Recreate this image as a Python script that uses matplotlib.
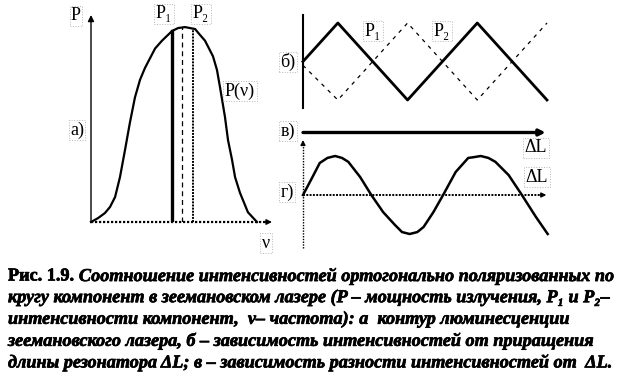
import matplotlib
matplotlib.use("Agg")
import matplotlib.pyplot as plt
import matplotlib.patheffects as pe

W, H = 629, 385

# а) контур люминесценции P(nu): точки
nu = [0, 0.39, 0.77, 1.05, 1.33, 1.60, 1.88, 2.15, 2.43, 2.71, 2.98, 3.54,
      3.92, 4.48, 4.81, 5.19, 5.75, 6.02, 6.30, 6.74, 6.96, 7.13, 7.40,
      7.57, 7.79, 7.96, 8.23, 8.67, 9.17]
p_nu = [0, 0.02, 0.046, 0.077, 0.128, 0.23, 0.37, 0.51, 0.64, 0.73, 0.79,
        0.89, 0.93, 0.98, 0.995, 1.0, 0.99, 0.96, 0.93, 0.85, 0.78, 0.69,
        0.54, 0.42, 0.32, 0.23, 0.15, 0.05, 0]
lines_nu = [4.48, 5.03, 5.64]       # P1, центр, P2
lines_p = [0.98, 1.0, 0.99]

# б) интенсивности P1 и P2 от dL
dl_tri = [0, 0.5, 1.5, 2.5, 3.5]
p1_tri = [0, 1, -1, 1, -1]
p2_tri = [-0.1, -1, 1, -1, 1]

# г) разность интенсивностей
dl_diff = [0, 0.13, 0.24, 0.35, 0.46, 0.56, 0.65, 0.82, 0.98, 1.15, 1.32,
           1.42, 1.53, 1.64, 1.73, 1.87, 2.01, 2.19, 2.37, 2.45, 2.55, 2.66,
           2.76, 2.95, 3.14, 3.34, 3.51]
p_diff = [0, 0.44, 0.82, 0.95, 1.0, 0.95, 0.85, 0.46, 0, -0.44, -0.77,
          -0.95, -1.0, -0.95, -0.82, -0.44, 0, 0.59, 0.95, 0.97, 1.0, 0.95,
          0.85, 0.51, 0, -0.56, -1.0]

caption = [
    "Соотношение интенсивностей ортогонально поляризованных по",
    "кругу компонент в зеемановском лазере (P – мощность излучения, P₁ и P₂–",
    "интенсивности компонент,  ν– частота): а  контур люминесценции",
    "зеемановского лазера, б – зависимость интенсивностей от приращения",
    "длины резонатора ΔL; в – зависимость разности интенсивностей от  ΔL.",
]

SERIF = ["Liberation Serif", "DejaVu Serif"]
CAP_SIZE = 13.1
THICK = [pe.withStroke(linewidth=0.5, foreground="k")]


def box(l, t, r, b):
    return [l / W, 1 - b / H, (r - l) / W, (b - t) / H]


def label(x, y, s, size=13):
    fig.text(x / W, 1 - y / H, s, family=SERIF, fontsize=size, ha="center",
             va="center",
             bbox=dict(boxstyle="square,pad=0.08", fc="none", ec="#b8b8b8",
                       ls=":", lw=0.7))


def arrow(ax, x0, y0, x1, y1, lw=1.0, ls="-", ms=9):
    ax.annotate("", xy=(x1, y1), xytext=(x0, y0), annotation_clip=False,
                arrowprops=dict(arrowstyle="-|>", lw=lw, color="k",
                                linestyle=ls, mutation_scale=ms,
                                shrinkA=0, shrinkB=0))


fig = plt.figure(figsize=(W / 100, H / 100), dpi=100)

# --- а) ---
ax_a = fig.add_axes(box(91, 15, 272, 222))
ax_a.set_xlim(0, 10)
ax_a.set_ylim(0, 1.062)
ax_a.axis("off")
ax_a.plot(nu, p_nu, color="k", lw=1.6, clip_on=False)
ax_a.plot([lines_nu[0]] * 2, [0, lines_p[0]], color="k", lw=2.4)
ax_a.plot([lines_nu[1]] * 2, [0, lines_p[1]], color="k", lw=0.9,
          ls=(0, (4, 3)))
ax_a.plot([lines_nu[2]] * 2, [0, lines_p[2]], color="k", lw=1.4,
          ls=(0, (1, 0.6)))
arrow(ax_a, 0, 0, 0, 1.062, lw=1.0)
ax_a.plot([0, 9.8], [0, 0], color="k", lw=1.6, ls=(0, (1, 0.8)),
          clip_on=False)
arrow(ax_a, 9.6, 0, 10, 0, lw=1.0, ms=8)

# --- б) ---
ax_b = fig.add_axes(box(303, 23, 547, 100))
ax_b.set_xlim(0, 3.5)
ax_b.set_ylim(-1, 1)
ax_b.axis("off")
ax_b.plot([0, 0], [-1.21, 1.21], color="k", lw=1.5, clip_on=False)
ax_b.plot(dl_tri, p1_tri, color="k", lw=2.0, clip_on=False)
ax_b.plot(dl_tri, p2_tri, color="k", lw=0.9, ls=(0, (3, 4)), clip_on=False)

# --- в) ---
ax_v = fig.add_axes(box(303, 125, 547, 140))
ax_v.set_xlim(0, 3.5)
ax_v.set_ylim(-1, 1)
ax_v.axis("off")
arrow(ax_v, 0, 0, 3.48, 0, lw=2.4, ms=9)

# --- г) ---
ax_g = fig.add_axes(box(303, 156, 547, 234))
ax_g.set_xlim(0, 3.5)
ax_g.set_ylim(-1, 1)
ax_g.axis("off")
ax_g.plot([0, 0], [-1.36, 1.3], color="k", lw=1.0, ls=(0, (1, 1)),
          clip_on=False)
arrow(ax_g, 0, 1.3, 0, 1.41, lw=1.0, ms=7)
ax_g.plot([0, 3.42], [0, 0], color="k", lw=1.4, ls=(0, (1, 0.7)),
          clip_on=False)
arrow(ax_g, 3.4, 0, 3.49, 0, lw=1.0, ms=7)
ax_g.plot(dl_diff, p_diff, color="k", lw=1.8, clip_on=False)

# подписи
label(76, 16, "P")
label(164, 14, "P₁")
label(201, 14, "P₂")
label(240, 91, "P(ν)")
label(77, 130, "a)")
label(266, 243, "ν")
label(373, 31, "P₁")
label(442, 31, "P₂")
label(288, 62, "б)")
label(288, 131, "в)")
label(536, 148, "ΔL")
label(537, 177, "ΔL")
label(287, 192, "г)")

# подпись к рисунку
y0, dy = 276, 21.6
head = fig.text(8 / W, 1 - y0 / H, "Рис. 1.9.", family=SERIF,
                fontsize=CAP_SIZE, weight="bold", va="center",
                path_effects=THICK)
x_head = head.get_window_extent(fig.canvas.get_renderer()).x1 + 5
for i, line in enumerate(caption):
    x = x_head if i == 0 else 8
    fig.text(x / W, 1 - (y0 + i * dy) / H, line, family=SERIF,
             fontsize=CAP_SIZE, weight="bold", style="italic", va="center",
             path_effects=THICK)

fig.savefig("out.png", dpi=100, facecolor="white")
